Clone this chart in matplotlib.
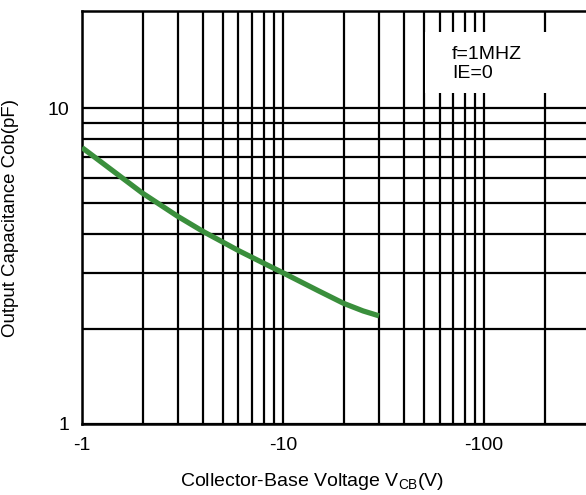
import matplotlib
matplotlib.use("Agg")
import matplotlib.pyplot as plt
from matplotlib.patches import Rectangle
from matplotlib.ticker import FixedLocator, NullFormatter

plt.rcParams['font.family'] = ['Liberation Sans', 'DejaVu Sans']
plt.rcParams['mathtext.fontset'] = 'custom'
plt.rcParams['mathtext.rm'] = 'Liberation Sans'
plt.rcParams['mathtext.it'] = 'Liberation Sans'

# Data
vcb = [1, 2, 3, 4, 5, 6, 8, 10, 15, 20, 25, 30]
cob = [7.5, 5.38, 4.54, 4.07, 3.77, 3.54, 3.23, 3.01, 2.64, 2.41, 2.28, 2.20]

x_major = [1, 10, 100]
x_major_labels = ['-1', '-10', '-100']
x_minor = [2, 3, 4, 5, 6, 7, 8, 9, 20, 30, 40, 50, 60, 70, 80, 90, 200]
y_major = [1, 10]
y_major_labels = ['1', '10']
y_minor = [2, 3, 4, 5, 6, 7, 8, 9]

FS = 14

W, H = 586, 495
fig = plt.figure(figsize=(W / 100, H / 100), dpi=100)
left, right, top, bottom = 82, 586, 11, 424
ax = fig.add_axes([left / W, (H - bottom) / H, (right - left) / W, (bottom - top) / H])

ax.set_xscale('log')
ax.set_yscale('log')
ax.set_xlim(1, 321)
ax.set_ylim(1, 20.3)

ax.xaxis.set_major_locator(FixedLocator(x_major))
ax.xaxis.set_minor_locator(FixedLocator(x_minor))
ax.set_xticklabels(x_major_labels)
ax.xaxis.set_minor_formatter(NullFormatter())
ax.yaxis.set_major_locator(FixedLocator(y_major))
ax.yaxis.set_minor_locator(FixedLocator(y_minor))
ax.set_yticklabels(y_major_labels)
ax.yaxis.set_minor_formatter(NullFormatter())

ax.tick_params(which='both', length=0, labelsize=FS, colors='black')
ax.tick_params(axis='x', pad=9)
ax.tick_params(axis='y', pad=9)

ax.grid(True, which='both', color='black', linewidth=1.6)
for s in ['left', 'bottom', 'top']:
    ax.spines[s].set_linewidth(1.8)
    ax.spines[s].set_color('black')
ax.spines['right'].set_visible(False)

ax.plot(vcb, cob, color='#3a8f3c', linewidth=3.8, solid_capstyle='butt',
        solid_joinstyle='round', zorder=4)

# white box behind annotation
bx0 = (425 - left) / (right - left)
by0 = (bottom - 93) / (bottom - top)
by1 = (bottom - 32) / (bottom - top)
ax.add_patch(Rectangle((bx0, by0), 1.0 - bx0, by1 - by0, transform=ax.transAxes,
                       facecolor='white', edgecolor='none', zorder=3, clip_on=False))
ax.text((452 - left) / (right - left), (bottom - 46) / (bottom - top), 'f=1MHZ\nIE=0',
        transform=ax.transAxes, fontsize=FS, va='top', ha='left', zorder=5,
        linespacing=1.15)

fig.text(312 / W, 1 - 482 / H, r'Collector-Base Voltage V$_{\mathrm{CB}}$(V)',
         ha='center', va='center', fontsize=FS)
fig.text(11 / W, 1 - 218 / H, 'Output Capacitance Cob(pF)', rotation=90,
         ha='center', va='center', fontsize=13.4)

fig.savefig('out.png', dpi=100, facecolor='white')
